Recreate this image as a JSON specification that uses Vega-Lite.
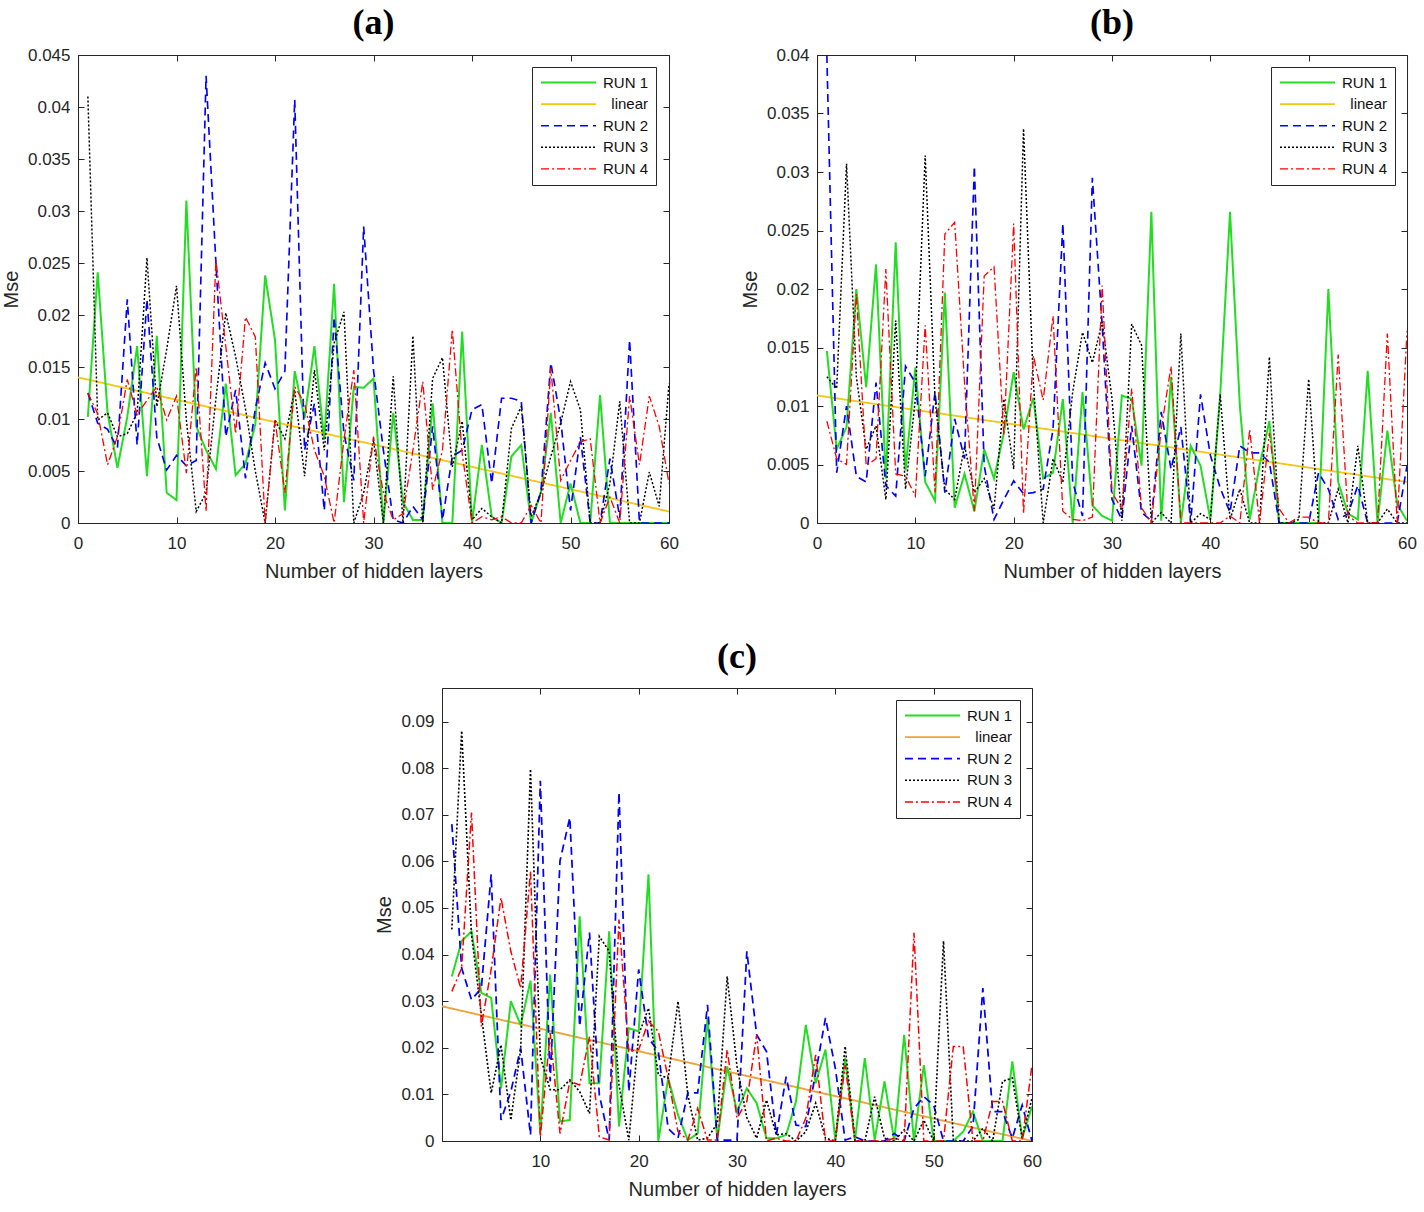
{
  "$schema": "https://vega.github.io/schema/vega-lite/v6.json",
  "background": "white",
  "padding": {"left": 0, "top": 4, "right": 10, "bottom": 10},
  "spacing": 56,
  "center": true,
  "resolve": {"scale": {"color": "independent", "strokeDash": "independent", "strokeWidth": "independent"}},
  "datasets": {
    "a": [
      {"x":1,"r1":0.0102,"r2":0.0125,"r3":0.041,"r4":0.0125},
      {"x":2,"r1":0.0241,"r2":0.0096,"r3":0.0099,"r4":0.0105},
      {"x":3,"r1":0.0106,"r2":0.009,"r3":0.0106,"r4":0.0056},
      {"x":4,"r1":0.0053,"r2":0.0072,"r3":0.0083,"r4":0.0083},
      {"x":5,"r1":0.0102,"r2":0.0215,"r3":0.0086,"r4":0.0138},
      {"x":6,"r1":0.017,"r2":0.0075,"r3":0.0106,"r4":0.0104},
      {"x":7,"r1":0.0045,"r2":0.0215,"r3":0.0255,"r4":0.0118},
      {"x":8,"r1":0.018,"r2":0.0082,"r3":0.0112,"r4":0.0131},
      {"x":9,"r1":0.0029,"r2":0.0051,"r3":0.0167,"r4":0.0099},
      {"x":10,"r1":0.0022,"r2":0.0065,"r3":0.0228,"r4":0.0122},
      {"x":11,"r1":0.031,"r2":0.0055,"r3":0.0099,"r4":0.0048},
      {"x":12,"r1":0.0093,"r2":0.006,"r3":0.0011,"r4":0.015},
      {"x":13,"r1":0.007,"r2":0.043,"r3":0.0029,"r4":0.0011},
      {"x":14,"r1":0.0052,"r2":0.025,"r3":0.012,"r4":0.0253},
      {"x":15,"r1":0.0134,"r2":0.0083,"r3":0.0202,"r4":0.017},
      {"x":16,"r1":0.0046,"r2":0.0128,"r3":0.016,"r4":0.0086},
      {"x":17,"r1":0.0057,"r2":0.0043,"r3":0.011,"r4":0.0198},
      {"x":18,"r1":0.0095,"r2":0.011,"r3":0.005,"r4":0.0179},
      {"x":19,"r1":0.0238,"r2":0.0154,"r3":0.0,"r4":0.0},
      {"x":20,"r1":0.0176,"r2":0.0129,"r3":0.0099,"r4":0.0099},
      {"x":21,"r1":0.0012,"r2":0.0146,"r3":0.0081,"r4":0.0029},
      {"x":22,"r1":0.0146,"r2":0.0407,"r3":0.0128,"r4":0.0131},
      {"x":23,"r1":0.0101,"r2":0.007,"r3":0.0045,"r4":0.0115},
      {"x":24,"r1":0.017,"r2":0.0115,"r3":0.0147,"r4":0.007},
      {"x":25,"r1":0.008,"r2":0.0012,"r3":0.007,"r4":0.0045},
      {"x":26,"r1":0.023,"r2":0.0198,"r3":0.0173,"r4":0.0},
      {"x":27,"r1":0.002,"r2":0.0086,"r3":0.0203,"r4":0.008},
      {"x":28,"r1":0.0131,"r2":0.0041,"r3":0.0,"r4":0.0147},
      {"x":29,"r1":0.013,"r2":0.0285,"r3":0.0029,"r4":0.0},
      {"x":30,"r1":0.0139,"r2":0.0147,"r3":0.008,"r4":0.0083},
      {"x":31,"r1":0.0,"r2":0.007,"r3":0.0,"r4":0.0029},
      {"x":32,"r1":0.0106,"r2":0.0003,"r3":0.0141,"r4":0.0003},
      {"x":33,"r1":0.002,"r2":0.0,"r3":0.0,"r4":0.0009},
      {"x":34,"r1":0.0003,"r2":0.0016,"r3":0.018,"r4":0.007},
      {"x":35,"r1":0.0003,"r2":0.0003,"r3":0.0,"r4":0.0136},
      {"x":36,"r1":0.0115,"r2":0.0093,"r3":0.0139,"r4":0.0032},
      {"x":37,"r1":0.0,"r2":0.0003,"r3":0.0159,"r4":0.007},
      {"x":38,"r1":0.0,"r2":0.0064,"r3":0.0054,"r4":0.0186},
      {"x":39,"r1":0.0184,"r2":0.007,"r3":0.0098,"r4":0.0067},
      {"x":40,"r1":0.0,"r2":0.0109,"r3":0.0003,"r4":0.0},
      {"x":41,"r1":0.0075,"r2":0.0114,"r3":0.0014,"r4":0.0006},
      {"x":42,"r1":0.0006,"r2":0.0038,"r3":0.0006,"r4":0.0003},
      {"x":43,"r1":0.0,"r2":0.012,"r3":0.0,"r4":0.0006},
      {"x":44,"r1":0.0064,"r2":0.012,"r3":0.0091,"r4":0.0},
      {"x":45,"r1":0.0075,"r2":0.0117,"r3":0.0112,"r4":0.0},
      {"x":46,"r1":0.0,"r2":0.0,"r3":0.0006,"r4":0.0017},
      {"x":47,"r1":0.003,"r2":0.003,"r3":0.0029,"r4":0.0},
      {"x":48,"r1":0.0106,"r2":0.0154,"r3":0.0064,"r4":0.0149},
      {"x":49,"r1":0.0,"r2":0.0099,"r3":0.0096,"r4":0.0041},
      {"x":50,"r1":0.0038,"r2":0.0012,"r3":0.0136,"r4":0.006},
      {"x":51,"r1":0.0,"r2":0.0083,"r3":0.0109,"r4":0.0078},
      {"x":52,"r1":0.0,"r2":0.0,"r3":0.0,"r4":0.0081},
      {"x":53,"r1":0.0123,"r2":0.0,"r3":0.0,"r4":0.0},
      {"x":54,"r1":0.0,"r2":0.0062,"r3":0.0038,"r4":0.0025},
      {"x":55,"r1":0.0,"r2":0.0005,"r3":0.0117,"r4":0.0},
      {"x":56,"r1":0.0,"r2":0.0176,"r3":0.0,"r4":0.0122},
      {"x":57,"r1":0.0,"r2":0.0,"r3":0.0,"r4":0.0056},
      {"x":58,"r1":0.0,"r2":0.0,"r3":0.0049,"r4":0.0122},
      {"x":59,"r1":0.0,"r2":0.0,"r3":0.0016,"r4":0.0093},
      {"x":60,"r1":0.0,"r2":0.0,"r3":0.0134,"r4":0.0038}
    ],
    "b": [
      {"x":1,"r1":0.0147,"r2":0.04,"r3":0.0125,"r4":0.0087},
      {"x":2,"r1":0.0063,"r2":0.0043,"r3":0.0115,"r4":0.0055},
      {"x":3,"r1":0.0082,"r2":0.01,"r3":0.0307,"r4":0.005},
      {"x":4,"r1":0.02,"r2":0.004,"r3":0.0125,"r4":0.0196},
      {"x":5,"r1":0.0116,"r2":0.0035,"r3":0.0063,"r4":0.0049},
      {"x":6,"r1":0.0221,"r2":0.012,"r3":0.0083,"r4":0.0055},
      {"x":7,"r1":0.0038,"r2":0.0032,"r3":0.002,"r4":0.0217},
      {"x":8,"r1":0.024,"r2":0.0023,"r3":0.0173,"r4":0.0042},
      {"x":9,"r1":0.0045,"r2":0.0134,"r3":0.0029,"r4":0.004},
      {"x":10,"r1":0.0133,"r2":0.012,"r3":0.0106,"r4":0.0023},
      {"x":11,"r1":0.0035,"r2":0.004,"r3":0.0314,"r4":0.0169},
      {"x":12,"r1":0.0019,"r2":0.0112,"r3":0.0106,"r4":0.0026},
      {"x":13,"r1":0.0197,"r2":0.0026,"r3":0.0029,"r4":0.0247},
      {"x":14,"r1":0.0013,"r2":0.0089,"r3":0.002,"r4":0.0257},
      {"x":15,"r1":0.0042,"r2":0.0055,"r3":0.0066,"r4":0.012},
      {"x":16,"r1":0.001,"r2":0.0305,"r3":0.0026,"r4":0.001},
      {"x":17,"r1":0.0063,"r2":0.0049,"r3":0.0038,"r4":0.0211},
      {"x":18,"r1":0.0038,"r2":0.0003,"r3":0.0012,"r4":0.0219},
      {"x":19,"r1":0.0077,"r2":0.002,"r3":0.0106,"r4":0.0075},
      {"x":20,"r1":0.0129,"r2":0.0036,"r3":0.0046,"r4":0.0256},
      {"x":21,"r1":0.008,"r2":0.0025,"r3":0.0337,"r4":0.0008},
      {"x":22,"r1":0.0107,"r2":0.0026,"r3":0.012,"r4":0.0143},
      {"x":23,"r1":0.0038,"r2":0.0029,"r3":0.0,"r4":0.0105},
      {"x":24,"r1":0.0043,"r2":0.008,"r3":0.0055,"r4":0.0177},
      {"x":25,"r1":0.0106,"r2":0.0256,"r3":0.0035,"r4":0.001},
      {"x":26,"r1":0.0,"r2":0.0035,"r3":0.0112,"r4":0.0003},
      {"x":27,"r1":0.0112,"r2":0.0006,"r3":0.0163,"r4":0.0002},
      {"x":28,"r1":0.0015,"r2":0.0295,"r3":0.0137,"r4":0.0005},
      {"x":29,"r1":0.0006,"r2":0.0169,"r3":0.0172,"r4":0.0203},
      {"x":30,"r1":0.0002,"r2":0.002,"r3":0.0106,"r4":0.0026},
      {"x":31,"r1":0.0109,"r2":0.0003,"r3":0.0002,"r4":0.0012},
      {"x":32,"r1":0.0106,"r2":0.0083,"r3":0.017,"r4":0.0115},
      {"x":33,"r1":0.0049,"r2":0.0009,"r3":0.0152,"r4":0.0013},
      {"x":34,"r1":0.0266,"r2":0.0002,"r3":0.0,"r4":0.0},
      {"x":35,"r1":0.0002,"r2":0.0095,"r3":0.0009,"r4":0.008},
      {"x":36,"r1":0.0125,"r2":0.0046,"r3":0.0,"r4":0.0134},
      {"x":37,"r1":0.0,"r2":0.0082,"r3":0.0162,"r4":0.0},
      {"x":38,"r1":0.0066,"r2":0.0,"r3":0.0,"r4":0.0},
      {"x":39,"r1":0.0049,"r2":0.011,"r3":0.0008,"r4":0.0},
      {"x":40,"r1":0.0003,"r2":0.0058,"r3":0.0003,"r4":0.0},
      {"x":41,"r1":0.0109,"r2":0.003,"r3":0.011,"r4":0.0},
      {"x":42,"r1":0.0266,"r2":0.0009,"r3":0.0003,"r4":0.0006},
      {"x":43,"r1":0.01,"r2":0.0066,"r3":0.0029,"r4":0.0},
      {"x":44,"r1":0.0003,"r2":0.006,"r3":0.0,"r4":0.008},
      {"x":45,"r1":0.0049,"r2":0.006,"r3":0.0,"r4":0.0},
      {"x":46,"r1":0.0087,"r2":0.0052,"r3":0.0142,"r4":0.0077},
      {"x":47,"r1":0.0,"r2":0.0,"r3":0.0,"r4":0.0012},
      {"x":48,"r1":0.0,"r2":0.0,"r3":0.0,"r4":0.0},
      {"x":49,"r1":0.0,"r2":0.0,"r3":0.0003,"r4":0.0005},
      {"x":50,"r1":0.0,"r2":0.0,"r3":0.0123,"r4":0.0005},
      {"x":51,"r1":0.0,"r2":0.0043,"r3":0.0,"r4":0.0},
      {"x":52,"r1":0.02,"r2":0.0029,"r3":0.0,"r4":0.0},
      {"x":53,"r1":0.0035,"r2":0.0003,"r3":0.0029,"r4":0.0144},
      {"x":54,"r1":0.0008,"r2":0.0008,"r3":0.0,"r4":0.0006},
      {"x":55,"r1":0.0003,"r2":0.0032,"r3":0.0066,"r4":0.0},
      {"x":56,"r1":0.013,"r2":0.0,"r3":0.0,"r4":0.0},
      {"x":57,"r1":0.0,"r2":0.0,"r3":0.0,"r4":0.0},
      {"x":58,"r1":0.0079,"r2":0.0,"r3":0.0012,"r4":0.0162},
      {"x":59,"r1":0.0016,"r2":0.0,"r3":0.0,"r4":0.0},
      {"x":60,"r1":0.0002,"r2":0.0049,"r3":0.0,"r4":0.0164}
    ],
    "c": [
      {"x":1,"r1":0.0353,"r2":0.068,"r3":0.0454,"r4":0.0321},
      {"x":2,"r1":0.0429,"r2":0.0371,"r3":0.088,"r4":0.0371},
      {"x":3,"r1":0.045,"r2":0.0303,"r3":0.0443,"r4":0.0705},
      {"x":4,"r1":0.0318,"r2":0.0328,"r3":0.0271,"r4":0.0246},
      {"x":5,"r1":0.0307,"r2":0.0572,"r3":0.0103,"r4":0.0368},
      {"x":6,"r1":0.0113,"r2":0.0045,"r3":0.0206,"r4":0.0522},
      {"x":7,"r1":0.03,"r2":0.0106,"r3":0.0045,"r4":0.0407},
      {"x":8,"r1":0.0249,"r2":0.0199,"r3":0.0196,"r4":0.0328},
      {"x":9,"r1":0.0344,"r2":0.0013,"r3":0.0798,"r4":0.0579},
      {"x":10,"r1":0.0016,"r2":0.0773,"r3":0.0181,"r4":0.0009},
      {"x":11,"r1":0.0357,"r2":0.0128,"r3":0.011,"r4":0.0232},
      {"x":12,"r1":0.0042,"r2":0.0601,"r3":0.011,"r4":0.0016},
      {"x":13,"r1":0.0045,"r2":0.0694,"r3":0.0131,"r4":0.0128},
      {"x":14,"r1":0.0482,"r2":0.0246,"r3":0.0106,"r4":0.012},
      {"x":15,"r1":0.0124,"r2":0.0447,"r3":0.0059,"r4":0.0224},
      {"x":16,"r1":0.0124,"r2":0.0099,"r3":0.0439,"r4":0.0009},
      {"x":17,"r1":0.045,"r2":0.0002,"r3":0.0407,"r4":0.0002},
      {"x":18,"r1":0.0031,"r2":0.0748,"r3":0.012,"r4":0.0475},
      {"x":19,"r1":0.0242,"r2":0.0106,"r3":0.0002,"r4":0.0192},
      {"x":20,"r1":0.0235,"r2":0.0368,"r3":0.0228,"r4":0.0196},
      {"x":21,"r1":0.0572,"r2":0.0221,"r3":0.0285,"r4":0.0257},
      {"x":22,"r1":0.0,"r2":0.0192,"r3":0.0142,"r4":0.0235},
      {"x":23,"r1":0.0135,"r2":0.0027,"r3":0.0135,"r4":0.0135},
      {"x":24,"r1":0.0056,"r2":0.0006,"r3":0.03,"r4":0.002},
      {"x":25,"r1":0.0002,"r2":0.0103,"r3":0.0099,"r4":0.0002},
      {"x":26,"r1":0.0016,"r2":0.0103,"r3":0.0002,"r4":0.007},
      {"x":27,"r1":0.0264,"r2":0.0292,"r3":0.0006,"r4":0.0002},
      {"x":28,"r1":0.0002,"r2":0.0002,"r3":0.0038,"r4":0.0002},
      {"x":29,"r1":0.016,"r2":0.0002,"r3":0.0353,"r4":0.0196},
      {"x":30,"r1":0.0063,"r2":0.0002,"r3":0.016,"r4":0.0049},
      {"x":31,"r1":0.0113,"r2":0.0407,"r3":0.005,"r4":0.0085},
      {"x":32,"r1":0.0081,"r2":0.0228,"r3":0.0006,"r4":0.0228},
      {"x":33,"r1":0.0006,"r2":0.0192,"r3":0.0088,"r4":0.0},
      {"x":34,"r1":0.0006,"r2":0.0013,"r3":0.0013,"r4":0.0006},
      {"x":35,"r1":0.0013,"r2":0.0138,"r3":0.0016,"r4":0.0},
      {"x":36,"r1":0.0085,"r2":0.0034,"r3":0.0,"r4":0.0},
      {"x":37,"r1":0.0249,"r2":0.0031,"r3":0.002,"r4":0.0049},
      {"x":38,"r1":0.0124,"r2":0.0146,"r3":0.0081,"r4":0.0185},
      {"x":39,"r1":0.0196,"r2":0.0264,"r3":0.0006,"r4":0.0},
      {"x":40,"r1":0.0002,"r2":0.0156,"r3":0.0,"r4":0.0},
      {"x":41,"r1":0.0178,"r2":0.0002,"r3":0.0203,"r4":0.0163},
      {"x":42,"r1":0.0002,"r2":0.0009,"r3":0.0,"r4":0.0},
      {"x":43,"r1":0.0178,"r2":0.0,"r3":0.0,"r4":0.0},
      {"x":44,"r1":0.0002,"r2":0.0,"r3":0.0095,"r4":0.0},
      {"x":45,"r1":0.0128,"r2":0.0,"r3":0.0006,"r4":0.0},
      {"x":46,"r1":0.0,"r2":0.0016,"r3":0.0,"r4":0.0006},
      {"x":47,"r1":0.0228,"r2":0.0,"r3":0.0024,"r4":0.0},
      {"x":48,"r1":0.0,"r2":0.007,"r3":0.0,"r4":0.0447},
      {"x":49,"r1":0.0163,"r2":0.0095,"r3":0.0045,"r4":0.0},
      {"x":50,"r1":0.0,"r2":0.0077,"r3":0.0,"r4":0.0},
      {"x":51,"r1":0.0,"r2":0.0,"r3":0.0429,"r4":0.0},
      {"x":52,"r1":0.0,"r2":0.0,"r3":0.0,"r4":0.0203},
      {"x":53,"r1":0.002,"r2":0.0,"r3":0.0,"r4":0.0203},
      {"x":54,"r1":0.0063,"r2":0.0031,"r3":0.0,"r4":0.0},
      {"x":55,"r1":0.0,"r2":0.0328,"r3":0.0027,"r4":0.0},
      {"x":56,"r1":0.0,"r2":0.0063,"r3":0.0,"r4":0.0085},
      {"x":57,"r1":0.0,"r2":0.0063,"r3":0.0128,"r4":0.0085},
      {"x":58,"r1":0.0171,"r2":0.0006,"r3":0.0135,"r4":0.0},
      {"x":59,"r1":0.0006,"r2":0.0077,"r3":0.0006,"r4":0.0},
      {"x":60,"r1":0.0074,"r2":0.0,"r3":0.0092,"r4":0.0163}
    ]
  },
  "vconcat": [
    {
      "hconcat": [
        {
          "width": 591, "height": 468,
          "title": {"text": "(a)"},
          "layer": [
            {
              "data": {"values": [{"key": "lin", "x": 0, "mse": 0.014}, {"key": "lin", "x": 60, "mse": 0.0011}]},
              "mark": {"type": "line", "clip": true},
              "encoding": {
                "x": {"field": "x", "type": "quantitative", "scale": {"domain": [0, 60], "nice": false}, "axis": {"orient": "top", "labels": false, "title": null, "domain": false, "values": [0,10,20,30,40,50,60]}},
                "y": {"field": "mse", "type": "quantitative", "scale": {"domain": [0, 0.045], "nice": false}, "axis": {"orient": "right", "labels": false, "title": null, "domain": false, "values": [0,0.005,0.01,0.015,0.02,0.025,0.03,0.035,0.04,0.045]}},
                "color": {"field": "key", "type": "nominal", "scale": {"domain": ["r1","lin","r2","r3","r4"], "range": ["#22dd22","#f5c518","#0000ff","#000000","#ff0000"]}, "legend": {"labelExpr": "datum.label == 'lin' ? 'linear' : 'RUN ' + slice(datum.label, 1)"}},
                "strokeDash": {"field": "key", "type": "nominal", "scale": {"domain": ["r1","lin","r2","r3","r4"], "range": [[1,0],[1,0],[8,5],[2,2],[8,3,2,3]]}},
                "strokeWidth": {"field": "key", "type": "nominal", "scale": {"domain": ["r1","lin","r2","r3","r4"], "range": [2,1.3,2,1.6,2]}}
              }
            },
            {
              "data": {"name": "a"},
              "transform": [{"fold": ["r1","r2","r3","r4"], "as": ["key","mse"]}],
              "mark": {"type": "line", "clip": true},
              "encoding": {
                "x": {"field": "x", "type": "quantitative", "axis": {"orient": "bottom", "title": "Number of hidden layers", "values": [0,10,20,30,40,50,60]}},
                "y": {"field": "mse", "type": "quantitative", "axis": {"orient": "left", "title": "Mse", "format": "~g", "values": [0,0.005,0.01,0.015,0.02,0.025,0.03,0.035,0.04,0.045]}},
                "color": {"field": "key", "type": "nominal"},
                "strokeDash": {"field": "key", "type": "nominal"},
                "strokeWidth": {"field": "key", "type": "nominal"}
              }
            }
          ],
          "resolve": {"axis": {"x": "independent", "y": "independent"}}
        },
        {
          "width": 590, "height": 468,
          "title": {"text": "(b)"},
          "layer": [
            {
              "data": {"values": [{"key": "lin", "x": 0, "mse": 0.0109}, {"key": "lin", "x": 60, "mse": 0.0035}]},
              "mark": {"type": "line", "clip": true},
              "encoding": {
                "x": {"field": "x", "type": "quantitative", "scale": {"domain": [0, 60], "nice": false}, "axis": {"orient": "top", "labels": false, "title": null, "domain": false, "values": [0,10,20,30,40,50,60]}},
                "y": {"field": "mse", "type": "quantitative", "scale": {"domain": [0, 0.04], "nice": false}, "axis": {"orient": "right", "labels": false, "title": null, "domain": false, "values": [0,0.005,0.01,0.015,0.02,0.025,0.03,0.035,0.04]}},
                "color": {"field": "key", "type": "nominal", "scale": {"domain": ["r1","lin","r2","r3","r4"], "range": ["#22dd22","#f5c518","#0000ff","#000000","#ff0000"]}, "legend": {"labelExpr": "datum.label == 'lin' ? 'linear' : 'RUN ' + slice(datum.label, 1)"}},
                "strokeDash": {"field": "key", "type": "nominal", "scale": {"domain": ["r1","lin","r2","r3","r4"], "range": [[1,0],[1,0],[8,5],[2,2],[8,3,2,3]]}},
                "strokeWidth": {"field": "key", "type": "nominal", "scale": {"domain": ["r1","lin","r2","r3","r4"], "range": [2,1.3,2,1.6,2]}}
              }
            },
            {
              "data": {"name": "b"},
              "transform": [{"fold": ["r1","r2","r3","r4"], "as": ["key","mse"]}],
              "mark": {"type": "line", "clip": true},
              "encoding": {
                "x": {"field": "x", "type": "quantitative", "axis": {"orient": "bottom", "title": "Number of hidden layers", "values": [0,10,20,30,40,50,60]}},
                "y": {"field": "mse", "type": "quantitative", "axis": {"orient": "left", "title": "Mse", "format": "~g", "values": [0,0.005,0.01,0.015,0.02,0.025,0.03,0.035,0.04]}},
                "color": {"field": "key", "type": "nominal"},
                "strokeDash": {"field": "key", "type": "nominal"},
                "strokeWidth": {"field": "key", "type": "nominal"}
              }
            }
          ],
          "resolve": {"axis": {"x": "independent", "y": "independent"}}
        }
      ],
      "spacing": 148,
      "bounds": "flush",
      "resolve": {"scale": {"color": "independent", "strokeDash": "independent", "strokeWidth": "independent"}}
    },
    {
      "width": 590, "height": 453,
      "title": {"text": "(c)", "offset": 12},
      "layer": [
        {
          "data": {"values": [{"key": "lin", "x": 0, "mse": 0.0289}, {"key": "lin", "x": 60, "mse": 0.0}]},
          "mark": {"type": "line", "clip": true},
          "encoding": {
            "x": {"field": "x", "type": "quantitative", "scale": {"domain": [0, 60], "nice": false}, "axis": {"orient": "top", "labels": false, "title": null, "domain": false, "values": [10,20,30,40,50,60]}},
            "y": {"field": "mse", "type": "quantitative", "scale": {"domain": [0, 0.0972], "nice": false}, "axis": {"orient": "right", "labels": false, "title": "|", "titleOpacity": 0, "titleFontSize": 4, "titlePadding": 16, "domain": false, "values": [0,0.01,0.02,0.03,0.04,0.05,0.06,0.07,0.08,0.09]}},
            "color": {"field": "key", "type": "nominal", "scale": {"domain": ["r1","lin","r2","r3","r4"], "range": ["#22dd22","#eda23c","#0000ff","#000000","#ff0000"]}, "legend": {"labelExpr": "datum.label == 'lin' ? 'linear' : 'RUN ' + slice(datum.label, 1)"}},
            "strokeDash": {"field": "key", "type": "nominal", "scale": {"domain": ["r1","lin","r2","r3","r4"], "range": [[1,0],[1,0],[8,5],[2,2],[8,3,2,3]]}},
            "strokeWidth": {"field": "key", "type": "nominal", "scale": {"domain": ["r1","lin","r2","r3","r4"], "range": [2,1.5,2,1.6,2]}}
          }
        },
        {
          "data": {"name": "c"},
          "transform": [{"fold": ["r1","r2","r3","r4"], "as": ["key","mse"]}],
          "mark": {"type": "line", "clip": true},
          "encoding": {
            "x": {"field": "x", "type": "quantitative", "axis": {"orient": "bottom", "title": "Number of hidden layers", "values": [10,20,30,40,50,60]}},
            "y": {"field": "mse", "type": "quantitative", "axis": {"orient": "left", "title": "Mse", "format": "~g", "values": [0,0.01,0.02,0.03,0.04,0.05,0.06,0.07,0.08,0.09]}},
            "color": {"field": "key", "type": "nominal"},
            "strokeDash": {"field": "key", "type": "nominal"},
            "strokeWidth": {"field": "key", "type": "nominal"}
          }
        }
      ],
      "resolve": {"axis": {"x": "independent", "y": "independent"}}
    }
  ],
  "config": {
    "font": "Liberation Sans",
    "view": {"stroke": "#262626", "strokeWidth": 1},
    "axis": {
      "grid": false,
      "domainColor": "#262626",
      "tickColor": "#262626",
      "labelColor": "#262626",
      "titleColor": "#262626",
      "labelFont": "Liberation Sans",
      "titleFont": "Liberation Sans",
      "labelFontSize": 17,
      "titleFontSize": 20,
      "titleFontWeight": "normal",
      "tickSize": -6,
      "labelPadding": 14,
      "labelFlush": false
    },
    "axisX": {"labelPadding": 18, "titlePadding": 10},
    "axisY": {"titlePadding": 6},
    "legend": {
      "orient": "none",
      "legendX": 454,
      "legendY": 12,
      "title": null,
      "strokeColor": "#262626",
      "fillColor": "white",
      "padding": 8,
      "cornerRadius": 0,
      "labelFont": "Liberation Sans",
      "labelFontSize": 15,
      "labelColor": "#111111",
      "symbolType": "stroke",
      "symbolSize": 3025,
      "clipHeight": 15,
      "rowPadding": 5.6,
      "labelAlign": "right",
      "labelOffset": 51
    },
    "title": {"font": "Liberation Serif", "fontSize": 36, "fontWeight": "bold", "color": "#000000", "offset": 4, "anchor": "middle"}
  }
}
